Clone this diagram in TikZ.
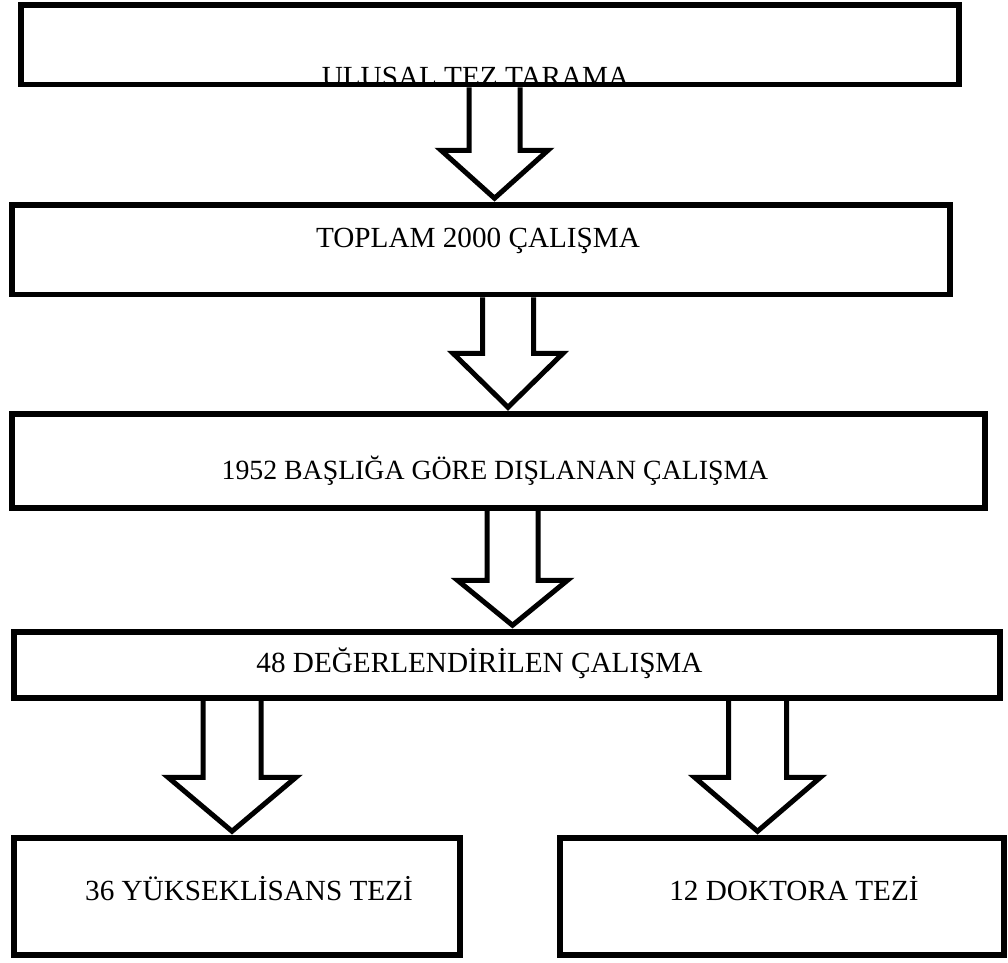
\documentclass[tikz,border=0pt]{standalone}
\usepackage{fontspec}
\setmainfont{Liberation Serif}
\usepackage{tikz}
\usetikzlibrary{calc}

% hollow block arrow: x, from node, to node, shaft half width, head half width, head length
\newcommand{\blockarrow}[6]{%
  \draw[barrow] let \p1=(#2.south), \p2=(#3.north) in
    (#1pt-#4pt,\y1) -- (#1pt-#4pt,\y2+4pt+#6pt) -- (#1pt-#5pt,\y2+4pt+#6pt)
    -- (#1pt,\y2+4pt) -- (#1pt+#5pt,\y2+4pt+#6pt) -- (#1pt+#4pt,\y2+4pt+#6pt)
    -- (#1pt+#4pt,\y1);
}

\begin{document}
\begin{tikzpicture}[
    x=1pt, y=1pt,
    box/.style={draw, line width=5.5pt, inner sep=0pt},
    boxtext/.style={font=\fontsize{29.2}{35}\selectfont, anchor=base, inner sep=0pt},
    barrow/.style={line width=5pt, line join=miter, miter limit=10}
]
    \useasboundingbox (0,0) rectangle (1008,-962);

    \node[box, minimum width=938pt, minimum height=79.5pt] (tarama) at (490,-44.75) {};
    \node[box, minimum width=938pt, minimum height=89.5pt] (toplam) at (481,-249.75) {};
    \node[box, minimum width=973pt, minimum height=94pt] (dislanan) at (498.5,-461) {};
    \node[box, minimum width=986pt, minimum height=66pt] (degerlendirilen) at (507,-665) {};
    \node[box, minimum width=446pt, minimum height=117pt] (yuksek) at (237,-896.5) {};
    \node[box, minimum width=444pt, minimum height=117pt] (doktora) at (782,-896.5) {};

    \node[boxtext] (taramaText) at (475.5,-86) {ULUSAL TEZ TARAMA};
    \node[boxtext] (toplamText) at (478,-247) {TOPLAM 2000 ÇALIŞMA};
    \node[boxtext, font=\fontsize{27.8}{33}\selectfont] (dislananText) at (495,-479) {1952 BAŞLIĞA GÖRE DIŞLANAN ÇALIŞMA};
    \node[boxtext] (degerText) at (479.5,-672) {48 DEĞERLENDİRİLEN ÇALIŞMA};
    \node[boxtext] (yuksekText) at (249,-900) {36 YÜKSEKLİSANS TEZİ};
    \node[boxtext] (doktoraText) at (794,-900) {12 DOKTORA TEZİ};

    \blockarrow{494.5}{tarama}{toplam}{25.5}{53.5}{48}
    \blockarrow{508}{toplam}{dislanan}{25.5}{55}{54}
    \blockarrow{512.5}{dislanan}{degerlendirilen}{25.5}{55}{45}
    \blockarrow{232}{degerlendirilen}{yuksek}{29}{64}{54}
    \blockarrow{757.5}{degerlendirilen}{doktora}{29}{63}{54}
\end{tikzpicture}
\end{document}
